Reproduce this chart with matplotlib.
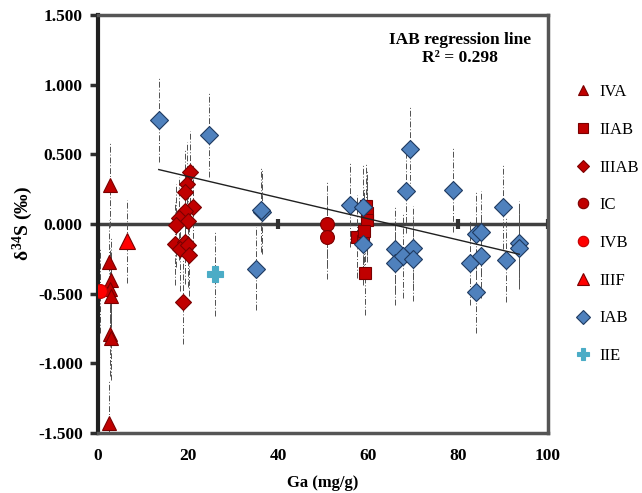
import numpy as np
import matplotlib
matplotlib.use("Agg")
from matplotlib import pyplot as plt
from matplotlib.lines import Line2D

plt.rcParams['font.family'] = ['Liberation Serif', 'DejaVu Serif']
plt.rcParams['mathtext.fontset'] = 'custom'
plt.rcParams['mathtext.rm'] = 'Liberation Serif:bold'
plt.rcParams['mathtext.it'] = 'Liberation Serif:bold'
plt.rcParams['mathtext.bf'] = 'Liberation Serif:bold'

# data (Ga in mg/g, d34S in permil)
iva_x = [2.7, 2.5, 2.8, 2.6, 2.9, 2.6, 2.8, 2.5]
iva_y = [0.28, -0.27, -0.40, -0.47, -0.52, -0.79, -0.82, -1.43]
iiab_x = [57.5, 58.8, 59.5, 59.8, 59.8, 59.2, 59.3]
iiab_y = [-0.09, -0.12, 0.13, 0.08, 0.03, -0.05, -0.35]
iiiab_x = [20.4, 19.8, 19.3, 21.1, 19.3, 17.9, 19.9, 17.4, 17.2, 19.4, 18.3, 20.0, 20.2, 18.9]
iiiab_y = [0.37, 0.29, 0.23, 0.12, 0.09, 0.04, 0.02, -0.01, -0.14, -0.13, -0.18, -0.15, -0.22, -0.56]
ic_x = [50.9, 50.9]
ic_y = [0.0, -0.095]
ivb_x = [0.5]
ivb_y = [-0.48]
iiif_x = [6.5]
iiif_y = [-0.125]
iab_x = [13.5, 24.6, 36.4, 36.2, 35.0, 55.9, 58.8, 58.8, 69.4, 68.4, 65.9, 65.9, 67.8, 69.9, 69.9,
         78.9, 89.9, 83.9, 85.0, 93.6, 93.6, 82.7, 85.0, 90.6, 83.9]
iab_y = [0.745, 0.64, 0.084, 0.10, -0.32, 0.136, 0.12, -0.14, 0.54, 0.236, -0.18, -0.28, -0.23, -0.17, -0.25,
         0.243, 0.124, -0.072, -0.06, -0.134, -0.17, -0.28, -0.23, -0.26, -0.485]
iie_x = [26.0]
iie_y = [-0.36]
err = 0.3

xticks = [0, 20, 40, 60, 80, 100]
yticks = [-1.5, -1.0, -0.5, 0.0, 0.5, 1.0, 1.5]

dark = '#C00000'
red = '#FF0000'
blue = '#4F81BD'
teal = '#4BACC6'

groups = [
    ('IVA', iva_x, iva_y, dict(marker='^', ms=10, mfc=dark, mec='#7A0000')),
    ('IIAB', iiab_x, iiab_y, dict(marker='s', ms=9, mfc=dark, mec='#7A0000')),
    ('IIIAB', iiiab_x, iiiab_y, dict(marker='D', ms=8.5, mfc=dark, mec='#7A0000')),
    ('IC', ic_x, ic_y, dict(marker='o', ms=10, mfc=dark, mec='#7A0000')),
    ('IVB', ivb_x, ivb_y, dict(marker='o', ms=10, mfc=red, mec=dark)),
    ('IIIF', iiif_x, iiif_y, dict(marker='^', ms=11, mfc=red, mec='#7A0000')),
    ('IAB', iab_x, iab_y, dict(marker='D', ms=9, mfc=blue, mec='#1F3A60')),
    ('IIE', iie_x, iie_y, dict(marker='P', ms=11, mfc=teal, mec=teal)),
]

fig = plt.figure(figsize=(6.42, 4.93), dpi=100)
ax = fig.add_axes([98/642, 1-433/493, 450/642, 418/493])

ax.axhline(0, color='#404040', lw=2.5, zorder=1)
ax.plot(xticks[1:], np.zeros(len(xticks)-1), '|', color='#303030', ms=7, mew=3, zorder=1)

handles = []
for name, x, y, st in groups:
    eb = ax.errorbar(x, y, yerr=err, fmt='none', ecolor='#505050', elinewidth=0.7, zorder=2)
    eb[2][0].set_linestyle((0, (6, 2, 1, 2)))
    ax.plot(x, y, linestyle='none', mew=0.8, zorder=3, **st)
    handles.append(Line2D([], [], linestyle='none', mew=0.8, label=name,
                          **{**st, 'ms': st['ms']*0.75}))

# IAB regression line
k, b = np.polyfit(iab_x, iab_y, 1)
xr = np.array([min(iab_x), max(iab_x)])
ax.plot(xr, k*xr + b, color='#202020', lw=1.0, zorder=4)

ax.text(0.805, 0.918, 'IAB regression line\nR\u00b2 = 0.298', transform=ax.transAxes,
        ha='center', va='center', fontsize=12.5, fontweight='bold', linespacing=1.2)

ax.set_xlim(0, 100)
ax.set_ylim(-1.5, 1.5)
ax.set_xticks(xticks)
ax.set_yticks(yticks)
ax.set_yticklabels(['%.3f' % v for v in yticks])
ax.tick_params(axis='x', length=0, pad=11, labelsize=12.5)
ax.tick_params(axis='y', length=6, width=2.5, color='#303030', pad=5, labelsize=12.5)
for lab in ax.get_xticklabels() + ax.get_yticklabels():
    lab.set_fontweight('bold')

for s in ['top', 'right', 'bottom']:
    ax.spines[s].set_color('#555555')
    ax.spines[s].set_linewidth(2.5)
ax.spines['left'].set_color('#202020')
ax.spines['left'].set_linewidth(3)

ax.set_xlabel('Ga (mg/g)', fontsize=12, fontweight='bold', labelpad=8)
ax.set_ylabel('$\\delta^{34}$S (\u2030)', fontsize=14, fontweight='bold', labelpad=2)

fig.legend(handles=handles, loc='upper left', bbox_to_anchor=(566/642, 1-76/493),
           frameon=False, fontsize=12, labelspacing=1.3, handlelength=1.0,
           handletextpad=0.5, borderpad=0)

fig.savefig('out.png', dpi=100)
